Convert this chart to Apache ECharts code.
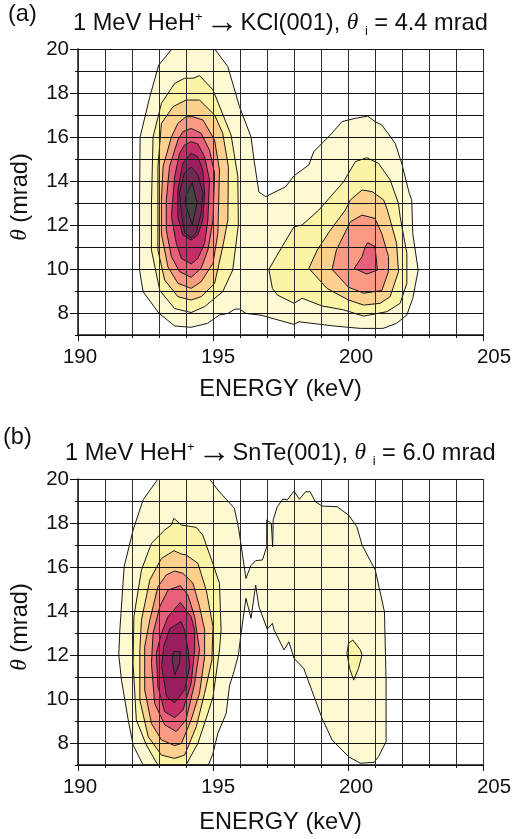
<!DOCTYPE html>
<html><head><meta charset="utf-8">
<style>html,body{margin:0;padding:0;background:#fff}#c{width:515px;height:839px}</style>
<script src="https://cdn.jsdelivr.net/npm/echarts@6/dist/echarts.min.js"></script>
</head><body><div id="c"></div>
<script>
// Contour polygons [energy keV, theta mrad], named panel + level
const a1=[[193.48,20],[192.99,19.27],[192.66,17.83],[192.3,16],[192.28,13],[192.28,9.95],[192.41,8.97],[192.99,8],[193.58,7.41],[194.19,7.35],[194.8,7.53],[195.24,7.91],[195.55,7.98],[195.8,8.17],[195.98,8.18],[196.22,7.98],[196.78,7.9],[198,7.48],[198.18,7.6],[199.47,7.41],[200.46,7.3],[201.3,7.3],[201.8,7.53],[202.18,7.91],[202.4,8.67],[202.6,9.95],[202.4,11.6],[202.36,13.14],[202.27,13.44],[201.99,14.8],[201.75,15.71],[201.25,16.55],[201,16.7],[200.73,16.95],[200.27,16.85],[199.78,16.7],[199.35,16.1],[198.73,15.33],[198.55,14.73],[198,14.24],[197.69,13.74],[196.95,13.29],[196.7,13.5],[196.52,14.95],[196.41,16],[195.98,17.38],[195.55,19.2],[195.06,20]];
const a2L=[[193.95,18.67],[194.26,18.67],[194.5,18.79],[195,18.14],[195.67,16.09],[195.92,14.2],[195.94,12],[195.73,9.95],[195.36,8.97],[194.69,8.29],[194.19,8.02],[193.58,8.2],[193.03,9.02],[192.72,10.86],[192.72,12.98],[192.78,16],[193.09,17.53],[193.58,18.44]];
const a2R=[[197.07,9.98],[197.56,11.02],[198,11.92],[198.3,12],[198.92,12.68],[199.84,13.97],[200.27,14.88],[200.7,15.06],[201.13,14.8],[201.56,14.05],[201.87,12.98],[201.93,12.38],[202.18,10.71],[202.18,9.35],[201.93,8.44],[201.44,8.06],[200.58,7.86],[199.84,8.14],[199.04,8.32],[198.3,8.67],[198,8.44],[197.38,8.82],[197.2,9.12]];
const a3L=[[194,17.68],[194.5,17.68],[195.06,17],[195.36,16.17],[195.57,14.65],[195.55,12.23],[195.36,11],[195.06,9.35],[194.56,8.74],[194.19,8.59],[193.7,8.74],[193.21,9.5],[192.96,10.86],[192.96,14.65],[193.09,16.62],[193.52,17.38]];
const a3R=[[200.52,13.59],[200.89,13.52],[201.32,13.14],[201.46,12.68],[201.8,11.17],[201.87,9.88],[201.56,8.74],[201.19,8.44],[200.58,8.36],[200.02,8.59],[199.22,9.12],[198.55,10.03],[198.86,10.86],[199.35,11.77],[199.9,12.68],[200.09,13.14]];
const a4L=[[194,16.92],[194.26,16.92],[194.63,16.77],[195.06,15.86],[195.24,14.5],[195.18,11.62],[195,10.26],[194.56,9.42],[194.19,9.12],[193.7,9.35],[193.33,10.1],[193.09,11.6],[193.09,13.14],[193.15,14.65],[193.46,16],[193.7,16.62]];
const a4R=[[200.52,12.45],[201,12.3],[201.25,11.62],[201.5,10.56],[201.5,9.88],[201.25,9.02],[200.58,8.9],[200.02,9.17],[199.41,9.98],[199.57,10.86],[200.09,12.15]];
const a5L=[[194.19,16.39],[194.56,16.17],[194.87,15.4],[195.06,14.35],[195,12.23],[194.81,10.86],[194.56,10.03],[194.19,9.62],[193.76,9.88],[193.46,10.56],[193.27,11.77],[193.27,13.14],[193.39,14.65],[193.7,15.86],[193.88,16.24]];
const a5R=[[200.73,11.2],[201,11.02],[201.09,9.95],[200.7,9.77],[200.23,10.03],[200.52,10.56],[200.64,11.02]];
const a6=[[194.19,15.79],[194.44,15.68],[194.69,15.1],[194.87,14.05],[194.81,12.23],[194.69,11.17],[194.44,10.48],[194.19,10.23],[193.83,10.48],[193.64,11.17],[193.46,12.38],[193.58,14.2],[193.76,15.26],[193.95,15.64]];
const a7=[[194.19,15.26],[194.44,15.1],[194.62,14.5],[194.69,13.44],[194.62,12.23],[194.44,11.55],[194.19,11.32],[193.88,11.55],[193.7,12.38],[193.7,13.59],[193.88,14.8]];
const a8=[[194.2,14.64],[194.44,14.27],[194.63,13.45],[194.56,12.53],[194.38,11.64],[194.19,11.41],[193.95,11.64],[193.83,12.53],[193.76,13.45],[193.94,14.36]];
const a9=[[194.23,13.92],[194.41,13.01],[194.23,12],[193.97,13.01],[194,13.36]];

const b1=[[192.96,20],[194.87,20],[195.18,19.5],[195.79,18.67],[195.94,17.83],[196.22,15.48],[196.4,16.06],[196.58,16.29],[196.83,16.32],[196.99,16.92],[196.99,18.14],[197.16,17.98],[197.21,16.92],[197.23,18.14],[197.38,18.74],[197.59,19.09],[197.75,19.05],[198,19.45],[198.2,19.08],[198.43,19.42],[198.6,19.42],[198.79,18.97],[199.04,18.77],[199.6,18.74],[200.02,18.36],[200.33,17.83],[200.52,17],[201.01,15.86],[201.35,13.97],[201.41,10.86],[201.41,8.06],[201.13,7.38],[200.97,7.12],[200.45,7.08],[200.02,7.38],[199.41,8.14],[199.04,9.12],[198.36,11.39],[198,11.85],[197.81,12.6],[197.63,12.23],[197.26,13.14],[197.2,13.44],[197.01,13.17],[196.7,14.2],[196.58,15.18],[196.41,13.67],[196.22,14.58],[196.04,12.98],[195.94,12],[195.79,11.3],[195.61,10.6],[195.49,9.35],[195.18,8.44],[195,7.53],[194.83,7],[192.41,7],[192.04,7.91],[191.86,9.05],[191.61,10.86],[191.51,12],[191.55,13.14],[191.71,16.02],[192.04,17.68],[192.41,19.05]];
const b2L=[[193.55,18.21],[193.83,17.91],[194.38,17.8],[194.62,17.45],[194.99,16.17],[195.24,15.26],[195.3,13.14],[195.24,12.23],[195,10.1],[194.81,9.35],[194.44,7.98],[194,7],[192.96,7],[192.53,7.91],[192.16,9.05],[192.04,11.62],[192.07,13.74],[192.35,15.86],[192.72,17.08],[193.21,17.68],[193.46,17.91]];
const b2R=[[200.18,12.68],[200.46,12.23],[200.52,12],[200.39,11.39],[200.21,10.86],[200.06,11.39],[199.96,12.08],[200.02,12.53]];
const b3=[[193.55,16.74],[193.83,16.59],[194,16.55],[194.44,16.17],[194.75,14.95],[195,13.29],[194.96,11.77],[194.69,10.26],[194.38,8.74],[193.95,7.45],[193.58,7.3],[193.09,7.45],[192.6,8.29],[192.29,9.95],[192.29,12.23],[192.35,13.59],[192.66,15.41],[193.09,16.39]];
const b4=[[193.58,15.82],[193.89,15.71],[194.26,15.26],[194.5,14.2],[194.69,13.14],[194.69,11.92],[194.5,10.26],[194.19,9.05],[193.83,7.98],[193.58,7.88],[193.09,8.14],[192.72,8.89],[192.47,10.41],[192.47,12.38],[192.66,13.59],[192.96,15.1],[193.27,15.64]];
const b5=[[193.79,15.15],[194.07,14.73],[194.32,13.74],[194.5,12.23],[194.32,10.71],[194,9.05],[193.64,8.52],[193.21,8.83],[192.84,9.8],[192.72,11.62],[192.78,12.98],[193.03,14.2],[193.33,14.95]];
const b6=[[193.79,14.39],[194.19,13.74],[194.32,13.14],[194.32,12.23],[194.19,10.71],[193.89,9.5],[193.58,9.15],[193.21,9.42],[192.96,10.56],[192.9,12.08],[193.09,12.98],[193.33,13.74]];
const b7=[[193.81,13.51],[193.95,13.14],[194.08,12.23],[194.14,11.47],[193.95,10.41],[193.58,9.83],[193.28,10.1],[193.1,11.47],[193.17,12.38],[193.4,13.2]];
const b8=[[193.53,12.15],[193.79,12.15],[193.76,11.62],[193.58,11.09],[193.49,11.77]];

const levelColors=['#FDF9D3','#FBF3A6','#FDD08E','#FA9A82','#E8617A','#C42D68','#981E5E','#6E2A52','#444444'];
const panelA=[[a1,0],[a2L,1],[a2R,1],[a3L,2],[a3R,2],[a4L,3],[a4R,3],[a5L,4],[a5R,4],[a6,5],[a7,6],[a8,7],[a9,8]];
const panelB=[[b1,0],[b2L,1],[b2R,1],[b3,2],[b4,3],[b5,4],[b6,5],[b7,6],[b8,7]];

const energyTicks=[190,195,200,205];
const thetaMajor=[8,10,12,14,16,18,20];
const gridEnergies=[190,191,192,193,194,195,196,197,198,199,200,201,202,203,204,205];
const gridThetas=[7,8,9,10,11,12,13,14,15,16,17,18,19,20];
const FONT='"Liberation Sans"';
const FS=20.5, TS=23.6;

function contour(points,level,idx){
  return {type:'custom',coordinateSystem:'cartesian2d',xAxisIndex:idx,yAxisIndex:idx*2,z:3,silent:true,clip:true,
    encode:{x:0,y:1},data:points,
    renderItem:function(params,api){
      if(params.dataIndex!==0) return null;
      return {type:'polygon',shape:{points:points.map(function(p){return api.coord(p);})},
        style:{fill:levelColors[level],stroke:'#1a1a1a',lineWidth:1}};
    }};
}
// grid lines over the fills, placed by the axes
function gridOverlay(idx,values,vertical){
  return {type:'custom',coordinateSystem:'cartesian2d',xAxisIndex:idx,yAxisIndex:idx*2,z:100,silent:true,clip:false,
    encode:vertical?{x:0}:{y:0},data:values.map(function(v){return [v];}),
    renderItem:function(params,api){
      var v=api.value(0);
      var p1=vertical?api.coord([v,7]):api.coord([190,v]);
      var p2=vertical?api.coord([v,20]):api.coord([205,v]);
      var shape=vertical?{x1:Math.round(p1[0])+0.5,y1:p1[1],x2:Math.round(p1[0])+0.5,y2:p2[1]}
                        :{x1:p1[0],y1:Math.round(p1[1])+0.5,x2:p2[0],y2:Math.round(p1[1])+0.5};
      return {type:'line',shape:shape,style:{stroke:vertical?'#2e2e2e':'#111',lineWidth:1}};
    }};
}
const rich={t:{fontFamily:FONT,fontSize:TS,color:'#111',lineHeight:30},
  ar:{fontFamily:FONT,fontSize:33,color:'#111',lineHeight:30,padding:[0,2,0,3]},
  sup:{fontFamily:FONT,fontSize:13,color:'#111',verticalAlign:'top',lineHeight:13,padding:[3,0,0,0]},
  sub:{fontFamily:FONT,fontSize:13,color:'#111',verticalAlign:'bottom',lineHeight:13},
  th:{fontFamily:'"Liberation Serif"',fontStyle:'italic',fontSize:TS,color:'#111',lineHeight:30}};
function title(text,left,top){return {text:text,left:left,top:top,padding:0,textStyle:{fontFamily:FONT,fontSize:TS,fontWeight:'normal',color:'#111',rich:rich}};}
const xRich={};
energyTicks.forEach(function(v,i){xRich['r'+i]={fontFamily:FONT,fontSize:FS,color:'#111',padding:[0,0,0,[4,10,16,22][i]]};});
function xAxis(i,gap){return {type:'value',gridIndex:i,min:190,max:205,interval:5,z:5,position:'bottom',
  name:'ENERGY (keV)',nameLocation:'middle',nameGap:gap,nameTextStyle:{fontFamily:FONT,fontSize:TS,color:'#111'},
  axisLine:{show:true,onZero:false,lineStyle:{color:'#111',width:1.5}},
  axisTick:{show:true,length:6,lineStyle:{color:'#111',width:1}},
  minorTick:{show:true,splitNumber:5,length:3,lineStyle:{color:'#111',width:1}},
  splitLine:{show:false},
  axisLabel:{fontFamily:FONT,fontSize:FS,color:'#111',margin:12,rich:xRich,formatter:function(v){var k=energyTicks.indexOf(v);return k>=0?'{r'+k+'|'+v+'}':'';}}};}
function yAxes(i){return [{type:'value',gridIndex:i,min:7,max:20,interval:1,z:5,position:'left',
  name:'{th|θ}{t| (mrad)}',nameLocation:'middle',nameGap:43,nameTextStyle:{fontFamily:FONT,fontSize:TS,color:'#111',padding:[0,10,0,0],rich:rich},
  axisLine:{show:true,onZero:false,lineStyle:{color:'#111',width:1.5}},
  axisTick:{show:true,length:3,lineStyle:{color:'#111',width:1}},
  splitLine:{show:false},
  axisLabel:{fontFamily:FONT,fontSize:FS,color:'#111',margin:9,padding:[4,0,0,0],formatter:function(v){return thetaMajor.indexOf(v)>=0?String(v):'';}}},
  {type:'value',gridIndex:i,min:7,max:20,interval:1,z:5,position:'left',
  axisLine:{show:false},splitLine:{show:false},axisLabel:{show:false},
  axisTick:{show:true,length:8,customValues:thetaMajor,lineStyle:{color:'#111',width:1}}}];}

const option={animation:false,backgroundColor:'#fff',
 title:[title('(a)',8,2),title('(b)',3,425),
  title('{t|1 MeV HeH}{sup|+}{ar|→}{t|KCl(001), }{th|θ}{t| }{sub|i}{t| = 4.4 mrad}',73,8),
  title('{t|1 MeV HeH}{sup|+}{ar|→}{t|SnTe(001), }{th|θ}{t| }{sub|i}{t| = 6.0 mrad}',65,438)],
 grid:[{left:76,top:49,width:407,height:286},{left:76,top:479,width:407,height:286}],
 xAxis:[xAxis(0,42),xAxis(1,45.5)],
 yAxis:[].concat(yAxes(0),yAxes(1)),
 series:[].concat(
   panelA.map(function(p){return contour(p[0],p[1],0);}),
   panelB.map(function(p){return contour(p[0],p[1],1);}),
   [gridOverlay(0,gridEnergies,true),gridOverlay(0,gridThetas,false),gridOverlay(1,gridEnergies,true),gridOverlay(1,gridThetas,false)])
};
echarts.init(document.getElementById('c'),null,{renderer:'canvas'}).setOption(option);
</script></body></html>
